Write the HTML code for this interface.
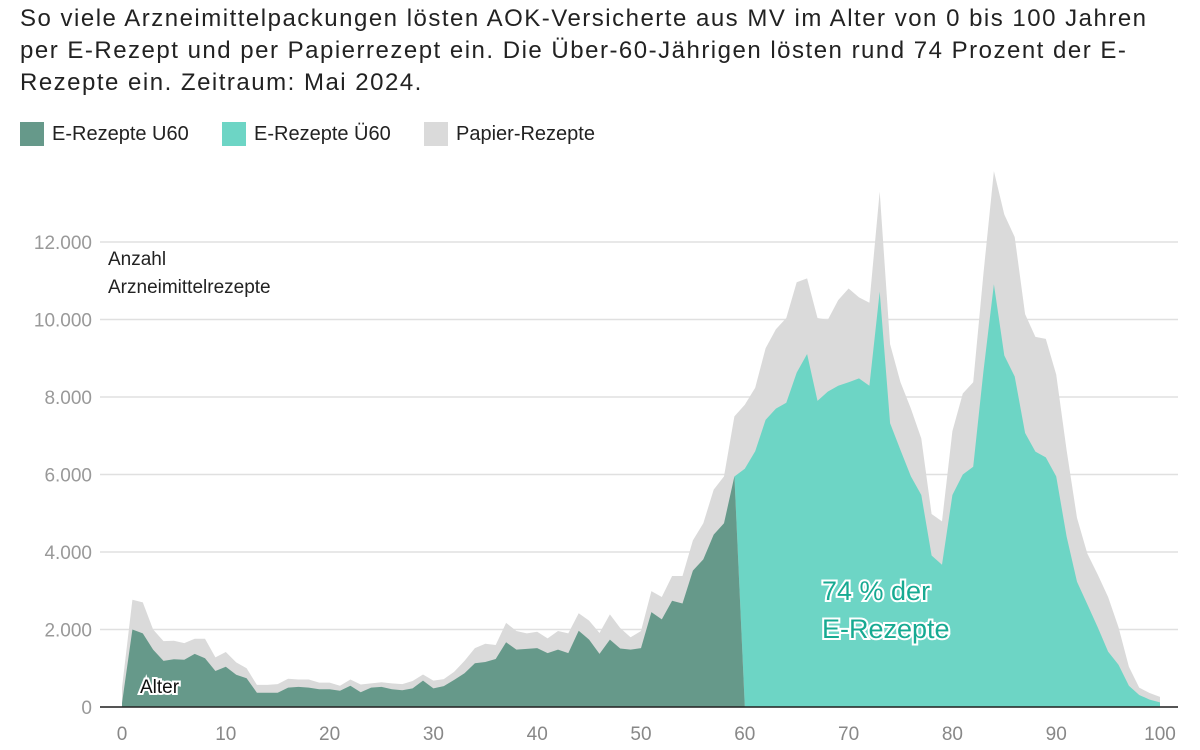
<!DOCTYPE html>
<html><head><meta charset="utf-8"><style>
body{margin:0;background:#fff;width:1200px;height:750px;overflow:hidden;font-family:"Liberation Sans",sans-serif;}
.t{position:absolute;left:20px;top:3px;font-size:24px;letter-spacing:1.5px;line-height:32px;color:#222;white-space:nowrap;}
.lg{position:absolute;top:122px;font-size:20px;color:#222;display:flex;align-items:center;}
.sw{width:24px;height:24px;margin-right:8px;display:inline-block;}
</style></head><body>
<div class="t">So viele Arzneimittelpackungen lösten AOK-Versicherte aus MV im Alter von 0 bis 100 Jahren<br>per E-Rezept und per Papierrezept ein. Die Über-60-Jährigen lösten rund 74 Prozent der E-<br>Rezepte ein. Zeitraum: Mai 2024.</div>
<div class="lg" style="left:20px"><span class="sw" style="background:#66998a"></span>E-Rezepte U60</div>
<div class="lg" style="left:222px"><span class="sw" style="background:#6dd5c5"></span>E-Rezepte Ü60</div>
<div class="lg" style="left:424px"><span class="sw" style="background:#dadada"></span>Papier-Rezepte</div>
<svg id="s" width="1200" height="750" style="position:absolute;left:0;top:0"></svg>
<script>
var tot=[0.5,2.77,2.7,2.0,1.7,1.71,1.65,1.76,1.76,1.28,1.42,1.15,1.0,0.57,0.57,0.59,0.73,0.71,0.71,0.63,0.63,0.55,0.71,0.58,0.61,0.64,0.61,0.59,0.67,0.84,0.68,0.72,0.91,1.19,1.52,1.63,1.6,2.17,1.96,1.9,1.94,1.77,1.96,1.9,2.42,2.23,1.91,2.39,2.04,1.8,1.96,2.99,2.84,3.38,3.38,4.3,4.74,5.61,5.95,7.5,7.8,8.24,9.26,9.75,10.04,10.96,11.06,10.04,9.99,10.5,10.8,10.57,10.43,13.3,9.36,8.38,7.7,6.93,4.98,4.79,7.12,8.09,8.38,11.2,13.83,12.71,12.13,10.14,9.55,9.5,8.58,6.63,4.88,3.96,3.42,2.84,2.06,1.04,0.5,0.36,0.26];
var dk=[0.1,2.0,1.9,1.48,1.19,1.23,1.22,1.37,1.26,0.93,1.04,0.83,0.74,0.37,0.37,0.37,0.5,0.52,0.5,0.46,0.46,0.42,0.55,0.38,0.5,0.52,0.46,0.43,0.48,0.68,0.48,0.54,0.7,0.87,1.13,1.16,1.24,1.67,1.48,1.5,1.52,1.39,1.48,1.39,1.97,1.74,1.37,1.74,1.51,1.48,1.52,2.45,2.26,2.74,2.67,3.52,3.81,4.45,4.74,5.95];
var tl={60:6.15,61:6.6,62:7.41,63:7.7,64:7.85,65:8.63,66:9.11,67:7.9,68:8.14,69:8.29,70:8.38,71:8.48,72:8.29,73:10.72,74:7.32,75:6.63,76:5.95,77:5.47,78:3.91,79:3.67,80:5.47,81:6.0,82:6.2,83:8.68,84:10.91,85:9.07,86:8.53,87:7.07,88:6.59,89:6.44,90:5.95,91:4.4,92:3.23,93:2.65,94:2.06,95:1.43,96:1.09,97:0.55,98:0.31,99:0.19,100:0.12};
function X(a){return 122+10.38*a}function Y(v){return 707-38.75*v}
var h='';
for(var k=0;k<=12;k+=2){var y=Y(k);h+='<line x1="100" x2="1178" y1="'+y+'" y2="'+y+'" stroke="#e0e0e0" stroke-width="1.5"/>';
h+='<text x="92" y="'+(y+7)+'" text-anchor="end" font-size="19" fill="#999">'+(k?k+'.000':'0')+'</text>';}
var p='M'+X(0)+' 707';for(var i=0;i<=100;i++)p+=' L'+X(i).toFixed(1)+' '+Y(tot[i]).toFixed(1);p+=' L'+X(100)+' 707Z';
h+='<path d="'+p+'" fill="#dadada"/>';
p='M'+X(59)+' '+Y(5.95);for(i=60;i<=100;i++)p+=' L'+X(i).toFixed(1)+' '+Y(tl[i]).toFixed(1);p+=' L'+X(100)+' 707 L'+X(60)+' 707Z';
h+='<path d="'+p+'" fill="#6dd5c5"/>';
p='M'+X(0)+' 707';for(i=0;i<=59;i++)p+=' L'+X(i).toFixed(1)+' '+Y(dk[i]).toFixed(1);p+=' L'+X(60)+' 707Z';
h+='<path d="'+p+'" fill="#66998a"/>';
h+='<line x1="100" x2="1178" y1="707" y2="707" stroke="#222" stroke-width="1.5"/>';
for(k=0;k<=100;k+=10)h+='<text x="'+X(k)+'" y="740" text-anchor="middle" font-size="19" fill="#888">'+k+'</text>';
h+='<text x="108" y="265" font-size="19" fill="#222">Anzahl</text><text x="108" y="293" font-size="19" fill="#222">Arzneimittelrezepte</text>';
h+='<text x="140" y="693" font-size="19" fill="#111" stroke="#fff" stroke-width="4" paint-order="stroke">Alter</text>';
h+='<text x="822" y="600" font-size="27" fill="#17aa92" stroke="#fff" stroke-width="4" paint-order="stroke">74 % der</text><text x="822" y="638" font-size="27" fill="#17aa92" stroke="#fff" stroke-width="4" paint-order="stroke">E-Rezepte</text>';
document.getElementById('s').innerHTML=h;
</script>
</body></html>
